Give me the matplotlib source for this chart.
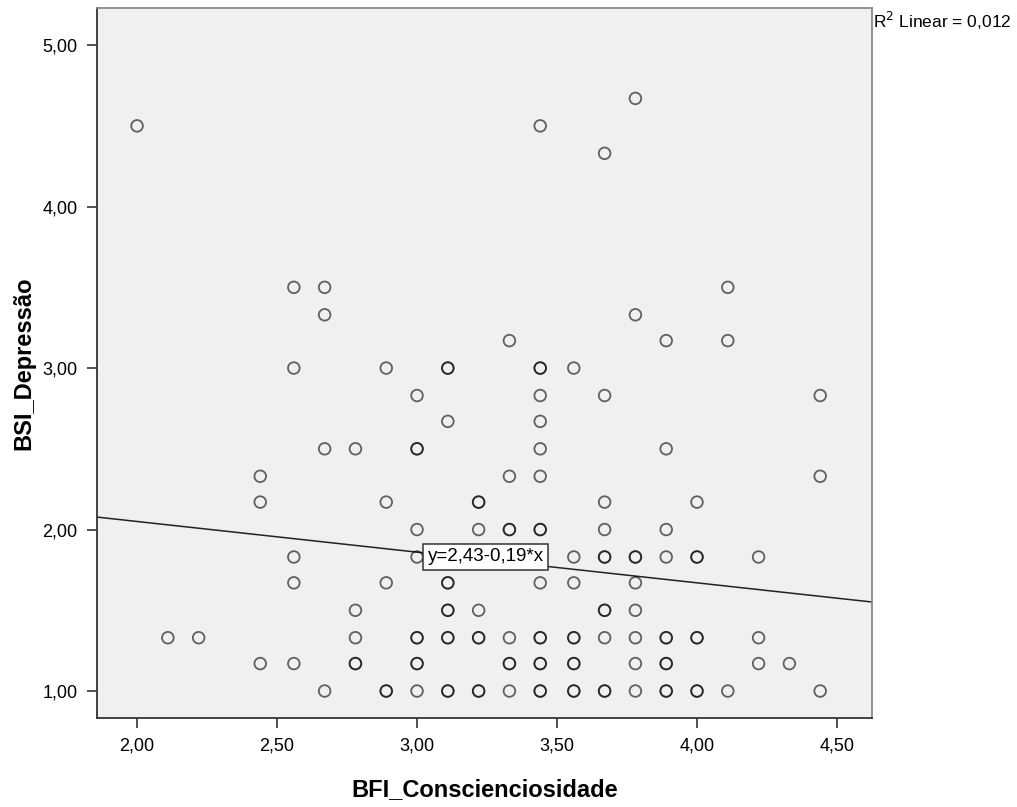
import numpy as np
import matplotlib
matplotlib.use("Agg")
import matplotlib.pyplot as plt
from matplotlib.ticker import FuncFormatter, FixedLocator

# observed (BFI, BSI) pairs; n = how many cases sit on the same spot
bfi = [2.00, 2.11, 2.22,
       2.44, 2.44, 2.44,
       2.56, 2.56, 2.56, 2.56, 2.56,
       2.67, 2.67, 2.67, 2.67,
       2.78, 2.78, 2.78, 2.78,
       2.89, 2.89, 2.89, 2.89,
       3.00, 3.00, 3.00, 3.00, 3.00, 3.00, 3.00,
       3.11, 3.11, 3.11, 3.11, 3.11, 3.11,
       3.22, 3.22, 3.22, 3.22, 3.22,
       3.33, 3.33, 3.33, 3.33, 3.33, 3.33,
       3.44, 3.44, 3.44, 3.44, 3.44, 3.44, 3.44, 3.44, 3.44, 3.44, 3.44,
       3.56, 3.56, 3.56, 3.56, 3.56, 3.56,
       3.67, 3.67, 3.67, 3.67, 3.67, 3.67, 3.67, 3.67,
       3.78, 3.78, 3.78, 3.78, 3.78, 3.78, 3.78, 3.78,
       3.89, 3.89, 3.89, 3.89, 3.89, 3.89, 3.89,
       4.00, 4.00, 4.00, 4.00,
       4.11, 4.11, 4.11,
       4.22, 4.22, 4.22,
       4.33,
       4.44, 4.44, 4.44]
bsi = [4.50, 1.33, 1.33,
       2.33, 2.17, 1.17,
       3.50, 3.00, 1.83, 1.67, 1.17,
       3.50, 3.33, 2.50, 1.00,
       2.50, 1.50, 1.33, 1.17,
       3.00, 2.17, 1.67, 1.00,
       2.83, 2.50, 2.00, 1.83, 1.33, 1.17, 1.00,
       3.00, 2.67, 1.67, 1.50, 1.33, 1.00,
       2.17, 2.00, 1.50, 1.33, 1.00,
       3.17, 2.33, 2.00, 1.33, 1.17, 1.00,
       4.50, 3.00, 2.83, 2.67, 2.50, 2.33, 2.00, 1.67, 1.33, 1.17, 1.00,
       3.00, 1.83, 1.67, 1.33, 1.17, 1.00,
       4.33, 2.83, 2.17, 2.00, 1.83, 1.50, 1.33, 1.00,
       4.67, 3.33, 1.83, 1.67, 1.50, 1.33, 1.17, 1.00,
       3.17, 2.50, 2.00, 1.83, 1.33, 1.17, 1.00,
       2.17, 1.83, 1.33, 1.00,
       3.50, 3.17, 1.00,
       1.83, 1.33, 1.17,
       1.17,
       2.83, 2.33, 1.00]
n = [1, 1, 1,
     1, 1, 1,
     1, 1, 1, 1, 1,
     1, 1, 1, 1,
     1, 1, 1, 2,
     1, 1, 1, 2,
     1, 2, 1, 1, 2, 2, 1,
     2, 1, 2, 2, 2, 2,
     2, 1, 1, 2, 2,
     1, 1, 2, 1, 2, 1,
     1, 2, 1, 1, 1, 1, 2, 1, 2, 2, 2,
     1, 1, 1, 2, 2, 2,
     1, 1, 1, 1, 2, 2, 1, 2,
     1, 1, 2, 1, 1, 1, 1, 1,
     1, 1, 1, 1, 2, 2, 2,
     1, 2, 2, 2,
     1, 1, 1,
     1, 1, 1,
     1,
     1, 1, 1]

intercept = 2.43
slope = -0.19
r2 = 0.012

x_ticks = [2.0, 2.5, 3.0, 3.5, 4.0, 4.5]
y_ticks = [1.0, 2.0, 3.0, 4.0, 5.0]

FONT = ["Liberation Sans Narrow", "Liberation Sans", "DejaVu Sans"]
plt.rcParams["font.family"] = FONT

x = np.repeat(bfi, n)
y = np.repeat(bsi, n)

fig = plt.figure(figsize=(10.17, 8.07), dpi=100)
ax = fig.add_axes([0.0954, 0.1103, 0.762, 0.8798])
ax.set_facecolor("#f0f0f0")
ax.set_xlim(1.857, 4.625)
ax.set_ylim(0.833, 5.23)

ax.scatter(x, y, s=70, facecolors="none", edgecolors="black",
           linewidths=1.3, alpha=0.6, zorder=3)

xs = np.array(ax.get_xlim())
ax.plot(xs, intercept + slope * xs, color="#222222", lw=1.1, zorder=2)

ax.text(3.245, 1.83, "y=2,43-0,19*x", fontsize=13.5, ha="center", va="center",
        zorder=5,
        bbox=dict(boxstyle="square,pad=0.22", facecolor="white",
                  edgecolor="#333333", lw=1.1))

comma = FuncFormatter(lambda v, _: f"{v:.2f}".replace(".", ","))
ax.xaxis.set_major_locator(FixedLocator(x_ticks))
ax.yaxis.set_major_locator(FixedLocator(y_ticks))
ax.xaxis.set_major_formatter(comma)
ax.yaxis.set_major_formatter(comma)
ax.tick_params(direction="out", length=7, width=1.2, labelsize=13,
               color="#333333", pad=7)

for side in ("left", "bottom"):
    ax.spines[side].set_color("#333333")
    ax.spines[side].set_linewidth(1.3)
for side in ("top", "right"):
    ax.spines[side].set_color("#8a8a8a")
    ax.spines[side].set_linewidth(1.3)

ax.set_xlabel("BFI_Conscienciosidade", fontsize=17, fontweight="bold", labelpad=17)
ax.set_ylabel("BSI_Depressão", fontsize=17, fontweight="bold", labelpad=5)

fig.text(0.858, 0.988, f"R$^2$ Linear = {r2:.3f}".replace(".", ","),
         fontsize=12.5, ha="left", va="top")

fig.savefig("out.png", dpi=100, facecolor="white")
